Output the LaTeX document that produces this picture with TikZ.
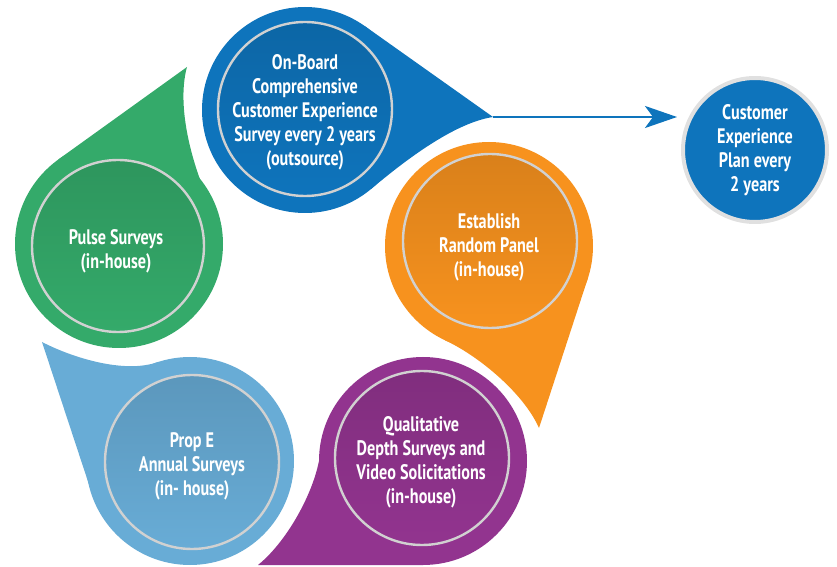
\documentclass[tikz,border=0pt]{standalone}
\usepackage{fontspec}
\setmainfont{PT Sans}[FakeStretch=0.77]
\usetikzlibrary{positioning,arrows.meta}
\definecolor{cblue}{RGB}{14,116,188}
\definecolor{corange}{RGB}{247,146,30}
\definecolor{cpurple}{RGB}{146,52,143}
\definecolor{clight}{RGB}{104,172,214}
\definecolor{cgreen}{RGB}{52,170,106}
\tikzset{
  disctext/.style={text=white, align=center, inner sep=0pt, font=\fontsize{10.5}{12}\selectfont\bfseries},
  discring/.style={draw=white!82!black, line width=1.2pt},
  plancirc/.style={circle, fill=cblue, draw=black!12, line width=2pt, minimum size=72pt,
    inner sep=0pt, text=white, align=center, font=\fontsize{10.5}{12}\selectfont\bfseries}
}
\begin{document}
\begin{tikzpicture}[x=0.5pt,y=-0.5pt]
\useasboundingbox (0,0) rectangle (837,567);
% drops
\fill[cblue] (305,110) circle (103);
\fill[cblue] (493,117) -- (364.5,25.9) -- (305,110) -- (371.2,188.9) .. controls (402,163) and (453,123) .. (493,117) -- cycle;
\fill[corange] (489,246) circle (104);
\fill[corange] (539,428) -- (587.9,278.1) -- (489,246) -- (445,340.3) .. controls (477,355) and (523,392) .. (539,428) -- cycle;
\fill[cpurple] (423,461) circle (104);
\fill[cpurple] (258,565) -- (423,565) -- (423,461) -- (320.4,451) .. controls (317.4,486) and (289,540) .. (258,565) -- cycle;
\fill[clight] (190,461) circle (104);
\fill[clight] (42,342) -- (92.2,494.3) -- (190,461) -- (158,362) .. controls (125,374) and (73,358) .. (42,342) -- cycle;
\fill[cgreen] (119,244) circle (104);
\fill[cgreen] (187,67) -- (58.3,159.5) -- (119,244) -- (221.4,226) .. controls (195,180) and (175,110) .. (187,67) -- cycle;
% inner discs
\shade[top color=cblue!88!black, middle color=cblue, bottom color=cblue] (305,109) circle (87);
\draw[discring] (305,109) circle (87);
\shade[top color=corange!88!black, middle color=corange, bottom color=corange] (490,241) circle (87);
\draw[discring] (490,241) circle (87);
\shade[top color=cpurple!88!black, middle color=cpurple, bottom color=cpurple] (422,458) circle (87);
\draw[discring] (422,458) circle (87);
\shade[top color=clight!88!black, middle color=clight, bottom color=clight] (192,462) circle (87);
\draw[discring] (192,462) circle (87);
\shade[top color=cgreen!88!black, middle color=cgreen, bottom color=cgreen] (118,246) circle (86);
\draw[discring] (118,246) circle (86);
% texts
\node[disctext] (onboard) at (305,112) {On-Board\\Comprehensive\\Customer Experience\\Survey every 2 years\\(outsource)};
\node[disctext] (panel) at (489,247) {Establish\\Random Panel\\(in-house)};
\node[disctext] (qual) at (421,462) {Qualitative\\Depth Surveys and\\Video Solicitations\\(in-house)};
\node[disctext] (prop) at (192,466) {Prop E\\Annual Surveys\\(in- house)};
\node[disctext] (pulse) at (116,251) {Pulse Surveys\\(in-house)};
\node[plancirc] (plan) at (755,150) {Customer\\Experience\\Plan every\\2 years};
% arrow
\coordinate (tipB) at (493,117);
\draw[cblue, line width=1.2pt, shorten >=2pt, -{Stealth[length=16pt,width=11pt,inset=4pt]}] (tipB) -- (tipB -| plan.west);
\end{tikzpicture}
\end{document}
